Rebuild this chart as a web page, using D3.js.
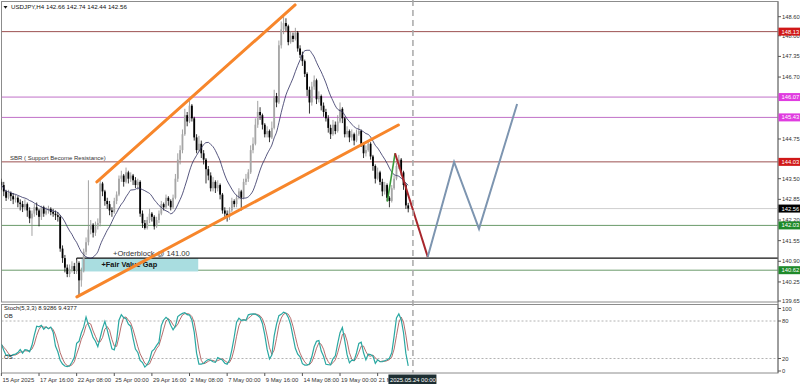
<!DOCTYPE html>
<html>
<head>
<meta charset="utf-8">
<script src="https://cdn.jsdelivr.net/npm/d3@7"></script>
<style>
body { margin: 0; background: #fff; }
svg { display: block; font-family: "Liberation Sans", Arial, sans-serif; }
</style>
</head>
<body>
<div id="chart"></div>
<script>
// USDJPY H4 candles, 15 Apr 2025 00:00 .. 23 May 2025 20:00 (open = previous close)
const firstOpen = 143.40;
const closes = [
  143.30,143.10,142.90,143.05,142.95,142.85,142.90,142.75,142.70,142.60,
  142.70,142.50,142.25,142.40,142.60,142.50,142.30,142.60,142.40,142.50,
  142.55,142.45,142.40,142.35,142.30,141.30,141.00,140.70,140.50,140.65,
  140.75,140.60,140.85,140.30,140.60,141.20,141.50,141.90,142.05,141.80,
  142.00,142.10,143.35,143.10,142.80,142.70,142.50,142.45,142.80,143.00,
  143.50,143.60,143.40,143.70,143.50,143.60,143.45,143.30,143.40,142.40,
  142.10,141.95,142.20,142.40,142.30,142.00,142.20,142.40,142.70,142.60,
  142.90,142.80,142.60,142.90,143.50,144.10,144.40,144.90,145.50,145.30,
  145.80,145.40,144.80,144.40,144.60,144.30,144.10,143.80,143.60,143.20,
  143.40,143.20,143.30,143.00,142.50,142.40,142.30,142.50,142.80,142.70,
  142.90,143.10,142.90,143.40,143.50,143.70,144.40,144.60,145.20,145.60,
  145.50,145.20,144.90,145.00,144.80,145.10,146.10,145.90,147.70,148.20,
  148.40,148.30,147.80,148.00,147.90,148.10,147.60,147.40,147.20,146.80,
  146.30,145.90,146.40,146.60,146.00,146.10,145.80,145.60,145.40,145.10,
  144.90,145.20,145.00,145.30,145.70,145.40,144.90,145.00,144.80,144.90,
  144.70,144.90,145.00,144.60,144.30,144.40,144.60,144.20,143.90,143.50,
  143.70,143.40,143.10,143.30,142.90,142.80,143.20,143.50,143.90,144.10,
  143.70,143.30,142.66,142.56
];
const highs = [
  143.50,143.40,143.15,143.15,143.10,143.05,143.00,142.95,142.85,142.80,
  142.85,142.75,142.60,142.50,142.70,142.75,142.55,142.65,142.65,142.60,
  142.65,142.60,142.55,142.50,142.45,142.35,141.40,141.10,140.80,140.80,
  140.90,140.85,140.95,140.90,140.70,141.30,141.65,143.45,142.20,142.10,
  142.15,142.25,143.45,143.40,143.15,142.90,142.80,142.60,142.90,143.10,
  143.60,143.75,143.65,143.85,143.75,143.70,143.65,143.55,143.50,143.45,
  142.50,142.20,142.30,142.55,142.45,142.35,142.30,142.50,142.80,142.75,
  143.00,142.95,142.85,143.00,143.65,144.30,144.55,145.05,145.70,145.60,
  145.95,145.85,145.45,144.90,144.85,144.70,144.40,144.15,143.90,143.70,
  143.55,143.45,143.45,143.35,143.05,142.60,142.50,142.60,142.90,142.85,
  143.00,143.20,143.15,143.50,143.65,143.80,144.55,144.80,145.40,145.95,
  145.75,145.55,145.25,145.15,145.05,145.30,146.30,146.20,147.85,148.45,
  148.60,148.55,148.35,148.15,148.10,148.25,148.15,147.70,147.50,147.25,
  146.85,146.40,146.55,146.75,146.65,146.25,146.15,145.90,145.70,145.50,
  145.20,145.35,145.30,145.50,145.90,145.75,145.45,145.15,145.05,145.05,
  144.95,145.05,145.20,145.05,144.65,144.55,144.70,144.65,144.25,143.95,
  143.85,143.75,143.50,143.40,143.35,142.95,143.30,143.60,144.00,144.25,
  144.15,143.75,143.35,142.74
];
const lows = [
  143.15,142.95,142.80,142.85,142.80,142.70,142.75,142.60,142.50,142.45,
  142.50,142.30,142.10,141.70,142.30,142.35,142.00,142.20,142.30,142.35,
  142.40,142.35,142.30,142.20,142.15,141.20,140.85,140.55,140.40,140.40,
  140.55,140.50,140.50,139.82,140.10,140.55,141.10,141.40,141.75,141.65,
  141.70,141.90,142.00,142.95,142.65,142.55,142.35,142.30,142.40,142.70,
  142.95,143.40,143.25,143.35,143.35,143.40,143.30,143.20,143.15,142.30,
  141.95,141.90,141.90,142.10,142.15,141.90,141.95,142.10,142.35,142.50,
  142.55,142.65,142.50,142.55,142.85,143.40,143.95,144.30,144.85,145.15,
  145.25,145.30,144.70,144.30,144.35,144.15,143.95,143.35,143.45,143.10,
  143.10,143.05,143.10,142.85,142.40,142.25,142.15,142.20,142.45,142.60,
  142.60,142.85,142.50,142.85,143.30,143.40,143.65,144.30,144.55,145.10,
  145.35,145.05,144.80,144.80,144.65,144.75,145.05,145.75,145.85,147.60,
  148.05,148.15,147.70,147.75,147.80,147.85,147.50,147.30,147.05,146.70,
  146.10,145.55,145.80,146.30,145.85,145.90,145.65,145.45,145.30,144.95,
  144.75,144.85,144.90,144.95,145.25,145.25,144.80,144.80,144.65,144.70,
  144.55,144.65,144.85,144.50,144.15,144.20,144.35,144.10,143.75,143.35,
  143.45,143.30,142.95,143.00,142.80,142.60,142.75,143.15,143.45,143.80,
  143.60,143.15,142.55,142.44
];

const timeLabelBars = [0, 16, 32, 48, 64, 80, 96, 112, 128, 144, 160];
const timeLabels = ["15 Apr 2025", "17 Apr 16:00", "22 Apr 08:00", "25 Apr 00:00", "29 Apr 16:00",
  "2 May 08:00", "7 May 00:00", "9 May 16:00", "14 May 08:00", "19 May 00:00", "21 May 16:00"];
// labels that are not hidden behind the coloured level tags
const priceTicks = [139.65, 140.25, 140.90, 141.55, 142.20, 142.85, 143.50,
  144.75, 146.70, 147.35, 148.00, 148.60];
const stochTicks = [0, 20, 80, 100];

const resistLevels = [148.13, 144.03];
const pinkLevels = [146.07, 145.43];
const greenLevels = [142.03, 140.62];
const bidPrice = 142.56;
const orderblockPrice = 141.00;
const fvgRange = [141.00, 140.58];
const fvgBars = [34.1, 83.7];
const orderblockBar = 32;
const cursorBar = 175;

// drawn objects: [bar, price]
const upperChannel = [[40.6, 143.40], [124.9, 148.97]];
const lowerChannel = [[32.1, 139.78], [168.8, 145.19]];
const greenLeg = [[164.1, 142.78], [167.4, 144.30]];
const redLeg = [[167.4, 144.30], [181.3, 141.04]];
const blueLeg = [[181.3, 141.04], [192.5, 144.03], [203.1, 141.92], [219.3, 145.85]];

const W = 800, H = 388;
const axisX = 778;
const mainTop = 1.5, mainBottom = 302;
const subTop = 304.5, subBottom = 373;

const x = d3.scaleLinear().domain([0, 330]).range([1.4, 1.4 + 330 * 2.3516]);
const y = d3.scaleLinear().domain([139.65, 148.60]).range([301, 16.7]);
const ys = d3.scaleLinear().domain([0, 100]).range([371, 308.5]);

const svg = d3.select("#chart").append("svg")
    .attr("width", W).attr("height", H);

const defs = svg.append("defs");
defs.append("clipPath").attr("id", "clipMain")
  .append("rect").attr("x", 1.5).attr("y", mainTop).attr("width", axisX - 1.5).attr("height", mainBottom - mainTop);
defs.append("clipPath").attr("id", "clipSub")
  .append("rect").attr("x", 1.5).attr("y", subTop).attr("width", axisX - 1.5).attr("height", subBottom - subTop);

// frames
svg.append("rect").attr("x", 1.5).attr("y", mainTop).attr("width", axisX - 1.5).attr("height", mainBottom - mainTop)
  .attr("fill", "none").attr("stroke", "#8c8c8c");
svg.append("rect").attr("x", 1.5).attr("y", subTop).attr("width", axisX - 1.5).attr("height", subBottom - subTop)
  .attr("fill", "none").attr("stroke", "#8c8c8c");

const main = svg.append("g").attr("clip-path", "url(#clipMain)");

// horizontal levels
const hline = (p, color, w) => main.append("line")
  .attr("x1", 1.5).attr("x2", axisX).attr("y1", y(p)).attr("y2", y(p))
  .attr("stroke", color).attr("stroke-width", w || 1);
resistLevels.forEach(p => hline(p, "#9c5050"));
pinkLevels.forEach(p => hline(p, "#c070c8"));
greenLevels.forEach(p => hline(p, "#6a9a6a"));
hline(bidPrice, "#cfcfcf");

// fair value gap + orderblock
main.append("rect")
  .attr("x", x(fvgBars[0])).attr("width", x(fvgBars[1]) - x(fvgBars[0]))
  .attr("y", y(fvgRange[0])).attr("height", y(fvgRange[1]) - y(fvgRange[0]))
  .attr("fill", "#a9dde0");
main.append("line")
  .attr("x1", x(orderblockBar)).attr("x2", axisX)
  .attr("y1", y(orderblockPrice)).attr("y2", y(orderblockPrice))
  .attr("stroke", "#111").attr("stroke-width", 1.3);
main.append("line")
  .attr("x1", x(orderblockBar)).attr("x2", x(orderblockBar))
  .attr("y1", y(orderblockPrice)).attr("y2", y(fvgRange[1]))
  .attr("stroke", "#111").attr("stroke-width", 1);
main.append("text").attr("x", 113).attr("y", y(orderblockPrice) - 2.5)
  .attr("font-size", 7.6).attr("fill", "#333").text("+Orderblock @ 141.00");
main.append("text").attr("x", 101.5).attr("y", y(orderblockPrice) + 9)
  .attr("font-size", 7.4).attr("font-weight", "bold").attr("fill", "#111").text("+Fair Value Gap");
main.append("text").attr("x", 10).attr("y", y(resistLevels[1]) - 2)
  .attr("font-size", 6).attr("fill", "#333").text("SBR ( Support Become Resistance)");

// candles
const bars = closes.map((c, i) => ({ i, o: i ? closes[i - 1] : firstOpen, h: highs[i], l: lows[i], c }));
const candle = main.append("g").selectAll("g").data(bars).join("g");
candle.append("line")
  .attr("x1", d => x(d.i)).attr("x2", d => x(d.i))
  .attr("y1", d => y(d.h)).attr("y2", d => y(d.l))
  .attr("stroke", d => d.c >= d.o ? "#8a8a8a" : "#000").attr("stroke-width", 0.8);
candle.append("rect")
  .attr("x", d => x(d.i) - 0.9).attr("width", 1.8)
  .attr("y", d => y(Math.max(d.o, d.c)))
  .attr("height", d => Math.max(0.8, Math.abs(y(d.o) - y(d.c))))
  .attr("fill", d => d.c >= d.o ? "#a6a6a6" : "#000");

// moving average 14
const ma = closes.map((c, i) => d3.mean(closes.slice(Math.max(0, i - 13), i + 1)));
main.append("path").datum(ma)
  .attr("d", d3.line().x((d, i) => x(i)).y(d => y(d)).curve(d3.curveMonotoneX))
  .attr("fill", "none").attr("stroke", "#2c2c5e").attr("stroke-width", 0.8);

// trend drawings
const pl = d3.line().x(d => x(d[0])).y(d => y(d[1]));
[upperChannel, lowerChannel].forEach(seg => main.append("path").datum(seg).attr("d", pl)
  .attr("fill", "none").attr("stroke", "#f7862b").attr("stroke-width", 3).attr("stroke-linecap", "round"));
main.append("path").datum(greenLeg).attr("d", pl).attr("fill", "none").attr("stroke", "#3a9a3a").attr("stroke-width", 1.6);
main.append("path").datum(redLeg).attr("d", pl).attr("fill", "none").attr("stroke", "#a8262c").attr("stroke-width", 2);
main.append("path").datum(blueLeg).attr("d", pl).attr("fill", "none").attr("stroke", "#7d95b0").attr("stroke-width", 2);

// title
svg.append("path").attr("d", "M3.5,6 L7.5,6 L5.5,8.8 Z").attr("fill", "#111");
svg.append("text").attr("x", 11).attr("y", 9).attr("font-size", 6.2).attr("fill", "#111")
  .text("USDJPY,H4  142.66 142.74 142.44 142.56");

// stochastic 5,3,3
const hh = highs.map((h, i) => d3.max(highs.slice(Math.max(0, i - 4), i + 1)));
const ll = lows.map((l, i) => d3.min(lows.slice(Math.max(0, i - 4), i + 1)));
const kLine = closes.map((c, i) => {
  let num = 0, den = 0;
  for (let j = Math.max(0, i - 2); j <= i; j++) { num += closes[j] - ll[j]; den += hh[j] - ll[j]; }
  return den ? 100 * num / den : 50;
});
const dLine = kLine.map((v, i) => d3.mean(kLine.slice(Math.max(0, i - 2), i + 1)));

const sub = svg.append("g").attr("clip-path", "url(#clipSub)");
[20, 80].forEach(v => sub.append("line")
  .attr("x1", 1.5).attr("x2", axisX).attr("y1", ys(v)).attr("y2", ys(v))
  .attr("stroke", "#a0a0a0").attr("stroke-dasharray", "2,2").attr("stroke-width", 0.8));
const sl = d3.line().x((d, i) => x(i)).y(d => ys(d));
sub.append("path").datum(dLine).attr("d", sl).attr("fill", "none").attr("stroke", "#a34848").attr("stroke-width", 0.8);
sub.append("path").datum(kLine).attr("d", sl).attr("fill", "none").attr("stroke", "#2aa8a2").attr("stroke-width", 1.2);
svg.append("text").attr("x", 4).attr("y", 310).attr("font-size", 6).attr("fill", "#222")
  .text("Stoch(5,3,3) 8.9286 9.4377");
svg.append("text").attr("x", 4).attr("y", 317.5).attr("font-size", 6).attr("fill", "#222").text("OB");
svg.append("text").attr("x", 4).attr("y", 359).attr("font-size", 6).attr("fill", "#222").text("OS");

// cursor / period separator
svg.append("line").attr("x1", x(cursorBar)).attr("x2", x(cursorBar)).attr("y1", 0).attr("y2", subBottom)
  .attr("stroke", "#a8a8a8").attr("stroke-width", 1.5).attr("stroke-dasharray", "6,4");

// price axis
svg.append("line").attr("x1", axisX).attr("x2", axisX).attr("y1", mainTop).attr("y2", subBottom).attr("stroke", "#777");
const pa = svg.append("g");
priceTicks.forEach(p => {
  pa.append("line").attr("x1", axisX).attr("x2", axisX + 3).attr("y1", y(p)).attr("y2", y(p)).attr("stroke", "#555");
  pa.append("text").attr("x", axisX + 4).attr("y", y(p)).attr("dy", "0.35em")
    .attr("font-size", 5.8).attr("fill", "#333").text(p.toFixed(2));
});
stochTicks.forEach(v => {
  pa.append("line").attr("x1", axisX).attr("x2", axisX + 3).attr("y1", ys(v)).attr("y2", ys(v)).attr("stroke", "#555");
  pa.append("text").attr("x", axisX + 4).attr("y", ys(v)).attr("dy", "0.35em")
    .attr("font-size", 5.8).attr("fill", "#333").text(v);
});

// coloured price labels
const tag = (p, bg) => {
  pa.append("rect").attr("x", axisX + 0.5).attr("y", y(p) - 4).attr("width", W - axisX).attr("height", 8).attr("fill", bg);
  pa.append("text").attr("x", axisX + 3.5).attr("y", y(p)).attr("dy", "0.35em")
    .attr("font-size", 5.8).attr("fill", "#fff").text(p.toFixed(2));
};
resistLevels.forEach(p => tag(p, "#d01818"));
pinkLevels.forEach(p => tag(p, "#e03ce0"));
greenLevels.forEach(p => tag(p, "#1f8a2a"));
tag(bidPrice, "#000");

// time axis
const ta = svg.append("g");
timeLabelBars.forEach((b, k) => {
  ta.append("line").attr("x1", x(b)).attr("x2", x(b)).attr("y1", subBottom).attr("y2", subBottom + 3).attr("stroke", "#555");
  ta.append("text").attr("x", x(b) + 1).attr("y", 381.5).attr("font-size", 5.9).attr("fill", "#333").text(timeLabels[k]);
});
ta.append("rect").attr("x", x(cursorBar) - 24.5).attr("y", 374.5).attr("width", 48).attr("height", 9.5).attr("fill", "#1d2e32");
ta.append("text").attr("x", x(cursorBar)).attr("y", 381.6).attr("text-anchor", "middle")
  .attr("font-size", 5.9).attr("fill", "#fff").text("2025.05.24 00:00");
</script>
</body>
</html>
